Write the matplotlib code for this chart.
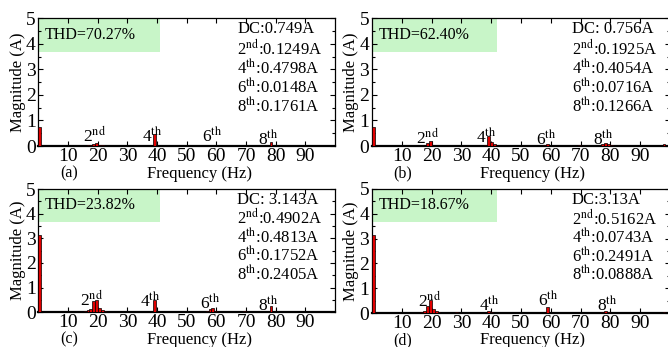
import matplotlib
matplotlib.use("Agg")
import matplotlib.pyplot as plt
from matplotlib.patches import Rectangle

plt.rcParams['font.family'] = ['Liberation Serif', 'DejaVu Serif']
plt.rcParams['mathtext.fontset'] = 'stix'

# ---- data ----
panel_ids = ['(a)', '(b)', '(c)', '(d)']
thd_text = ['THD=70.27%', 'THD=62.40%', 'THD=23.82%', 'THD=18.67%']
dc_text = ['DC:0.749A', 'DC: 0.756A', 'DC: 3.143A', 'DC:3.13A']
h2_text = ['0.1249A', '0.1925A', '0.4902A', '0.5162A']
h4_text = ['0.4798A', '0.4054A', '0.4813A', '0.0743A']
h6_text = ['0.0148A', '0.0716A', '0.1752A', '0.2491A']
h8_text = ['0.1761A', '0.1266A', '0.2405A', '0.0888A']

freq_a = [0.45, 16.7, 17.6, 18.6, 19.6, 20.6, 21.6, 39.2, 58.8, 78.4]
mag_a = [0.749, 0.03, 0.05, 0.08, 0.1249, 0.05, 0.04, 0.4798, 0.0148, 0.1761]

freq_b = [0.45, 18.6, 19.6, 38.2, 39.2, 40.2, 41.2, 57.8, 58.8, 69.6, 77.4, 78.4, 79.4, 80.4, 98.0]
mag_b = [0.756, 0.1, 0.1925, 0.05, 0.4054, 0.15, 0.06, 0.03, 0.0716, 0.03, 0.06, 0.1266, 0.08, 0.04, 0.08]

freq_c = [0.45, 15.7, 16.7, 17.6, 18.6, 19.6, 20.6, 21.6, 22.5, 39.2, 56.8, 57.8, 58.8, 59.8, 69.6, 78.4]
mag_c = [3.143, 0.05, 0.08, 0.15, 0.45, 0.4902, 0.18, 0.1, 0.06, 0.4813, 0.05, 0.12, 0.1752, 0.06, 0.04, 0.2405]

freq_d = [0.45, 16.7, 17.6, 18.6, 19.6, 20.6, 21.6, 22.5, 28.4, 39.2, 40.2, 58.8, 77.4, 78.4, 79.4, 98.0]
mag_d = [3.13, 0.06, 0.1, 0.3, 0.5162, 0.15, 0.08, 0.05, 0.03, 0.0743, 0.03, 0.2491, 0.04, 0.0888, 0.05, 0.05]

freqs = [freq_a, freq_b, freq_c, freq_d]
mags = [mag_a, mag_b, mag_c, mag_d]

harm_names = ['2$^{\\mathrm{nd}}$', '4$^{\\mathrm{th}}$', '6$^{\\mathrm{th}}$', '8$^{\\mathrm{th}}$']
harm_x = [[18.8, 38.4, 58.6, 77.6],
          [18.6, 38.3, 58.3, 77.7],
          [17.8, 37.6, 57.9, 77.6],
          [19.4, 39.2, 59.1, 78.8]]
harm_y = [[0.17, 0.17, 0.17, 0.03],
          [0.10, 0.10, 0.04, 0.04],
          [0.27, 0.20, 0.13, 0.07],
          [0.23, 0.09, 0.29, 0.09]]

W, H = 668, 347
fig = plt.figure(figsize=(W / 100, H / 100), dpi=100)

# axes rectangles in pixels: left, top, right, bottom
rects = [(38.4, 18.3, 335, 146),
         (372, 18.3, 670, 146),
         (38.4, 189, 335, 312.3),
         (372, 189, 670, 313)]
box_right = [41, 42, 41, 42]

for i in range(4):
    l, t, r, b = rects[i]
    ax = fig.add_axes([l / W, 1 - b / H, (r - l) / W, (b - t) / H])
    ax.bar(freqs[i], mags[i], width=0.9, color='#e00000', edgecolor='black', linewidth=0.5, zorder=3)
    ax.set_xlim(0, 100)
    ax.set_ylim(0, 5)
    ax.add_patch(Rectangle((0, 3.67), box_right[i], 1.33, facecolor='#c8f5c8', edgecolor='none', zorder=1))
    ax.text(2.2, 4.35, thd_text[i], fontsize=11.5, va='center', ha='left', zorder=4)
    lines = [dc_text[i],
             '2$^{\\mathrm{nd}}$:' + h2_text[i],
             '4$^{\\mathrm{th}}$:' + h4_text[i],
             '6$^{\\mathrm{th}}$:' + h6_text[i],
             '8$^{\\mathrm{th}}$:' + h8_text[i]]
    for k, s in enumerate(lines):
        ax.text(67, 4.57 - k * 0.755, s, fontsize=12, va='center', ha='left', zorder=4)
    for k in range(4):
        ax.text(harm_x[i][k], harm_y[i][k], harm_names[k], fontsize=12.5, ha='center', va='baseline', zorder=4)
    ax.set_xticks([10, 20, 30, 40, 50, 60, 70, 80, 90])
    ax.set_yticks([0, 1, 2, 3, 4, 5])
    ax.set_yticks([0.5, 1.5, 2.5, 3.5, 4.5], minor=True)
    ax.tick_params(axis='both', which='both', direction='in', top=True, right=True, labelsize=14, pad=2)
    ax.tick_params(axis='x', which='major', pad=1.5)
    ax.tick_params(axis='both', which='major', length=3.5, width=0.8)
    ax.tick_params(axis='y', which='minor', length=2.5, width=0.8)
    for s in ax.spines.values():
        s.set_linewidth(0.9)
    ax.spines['bottom'].set_linewidth(1.6)
    ax.set_ylabel('Magnitude (A)', fontsize=12, labelpad=0)
    # bottom labels
    cx = l + 31
    fig.text(cx / W, 1 - (b + 27.5) / H, panel_ids[i], fontsize=11.5, ha='center', va='center')
    fig.text((l + 161) / W, 1 - (b + 27.5) / H, 'Frequency (Hz)', fontsize=12, ha='center', va='center')

fig.savefig('out.png', dpi=100)
